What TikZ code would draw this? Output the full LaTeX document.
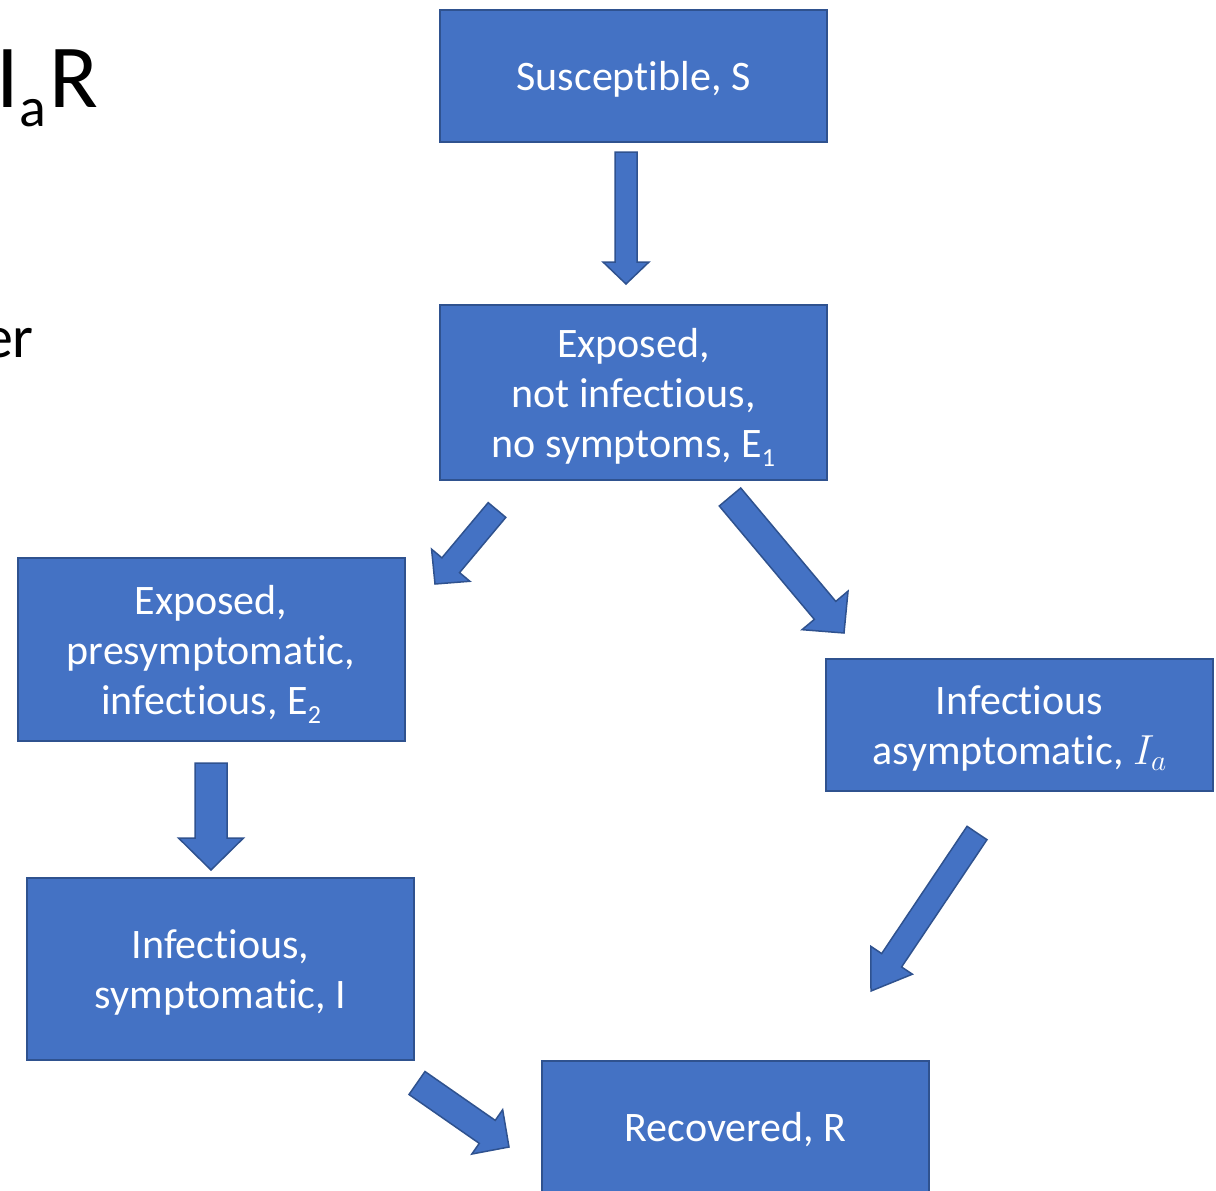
\RequirePackage{fix-cm}
\documentclass[tikz,border=0pt]{standalone}
\usepackage{graphicx}
\usepackage{fontspec}
\setmainfont[Ligatures=NoCommon]{Carlito}
\usetikzlibrary{calc}
\definecolor{boxfill}{HTML}{4472C4}
\definecolor{boxline}{HTML}{2F528F}
\newcommand{\lowsub}[1]{\raisebox{-0.22em}{\scalebox{0.62}{#1}}}
% block arrow: (tail)(tip)(shaft half width:head half width:head length)
\def\blockarrow(#1)(#2)(#3:#4:#5){%
	\coordinate (neck) at ($(#2)!#5!(#1)$);
	\draw[flow] ($(#1)!#3!90:(#2)$) -- ($(neck)!#3!90:(#2)$) -- ($(neck)!#4!90:(#2)$) -- (#2)
		-- ($(neck)!#4!-90:(#2)$) -- ($(neck)!#3!-90:(#2)$) -- ($(#1)!#3!-90:(#2)$) -- cycle;}

\begin{document}
\begin{tikzpicture}[x=1pt, y=-1pt,
		box/.style={draw=boxline, fill=boxfill, line width=2pt, text=white, align=center,
			inner sep=0pt, minimum width=387pt, text depth=0pt, font=\fontsize{42}{50}\selectfont},
		flow/.style={draw=boxline, fill=boxfill, line width=1.5pt, line join=miter}]
		%%%%% START %%%%%
		\useasboundingbox (0, 0) rectangle (1216, 1191);
		\clip (0, 0) rectangle (1216, 1191);
		
		% cut-off title and text on the left
		\node[anchor=base east, inner sep=0pt, font=\fontsize{90}{100}\selectfont] (title) at (99, 107) {I\lowsub{a}\kern4pt R};
		\node[anchor=base east, inner sep=0pt, font=\fontsize{60}{70}\selectfont] (side) at (34, 357) {er};
		
		% compartments
		\node[box, minimum height=132pt] (S) at (633.5, 76) {Susceptible, S};
		\node[box, minimum height=175pt] (E1) at (633.5, 392.5) {Exposed,\\ not infectious,\\ no symptoms, E\lowsub{1}};
		\node[box, minimum height=183pt] (E2) at (211, 649.5) {Exposed,\\ presymptomatic,\\ infectious, E\lowsub{2}};
		\node[box, minimum height=132pt] (Ia) at (1019.5, 725) {Infectious\\ asymptomatic, $I_a$};
		\node[box, minimum height=182pt] (I) at (220.5, 969) {Infectious,\\ symptomatic, I};
		\node[box, minimum height=132pt] (R) at (735.5, 1127) {Recovered, R};
		
		% arrow ends
		\coordinate (s-tail) at (626, 152);
		\coordinate (s-tip) at (626, 284);
		\coordinate (e1l-tail) at (497, 510);
		\coordinate (e1l-tip) at (435, 584);
		\coordinate (e1r-tail) at (730, 497);
		\coordinate (e1r-tip) at (844, 633);
		\coordinate (e2-tail) at (211, 763);
		\coordinate (e2-tip) at (211, 870);
		\coordinate (ia-tail) at (977, 833);
		\coordinate (ia-tip) at (871, 991);
		\coordinate (i-tail) at (417, 1083);
		\coordinate (i-tip) at (509, 1147);
		
		\blockarrow(s-tail)(s-tip)(11pt:23pt:22pt)
		\blockarrow(e1l-tail)(e1l-tip)(11.5pt:25pt:24.5pt)
		\blockarrow(e1r-tail)(e1r-tip)(14pt:30pt:29.5pt)
		\blockarrow(e2-tail)(e2-tip)(16pt:32.5pt:32pt)
		\blockarrow(ia-tail)(ia-tip)(12pt:25pt:37pt)
		\blockarrow(i-tail)(i-tip)(14pt:27pt:26.5pt)
		
		%%%%% END %%%%%
	\end{tikzpicture}
\end{document}
